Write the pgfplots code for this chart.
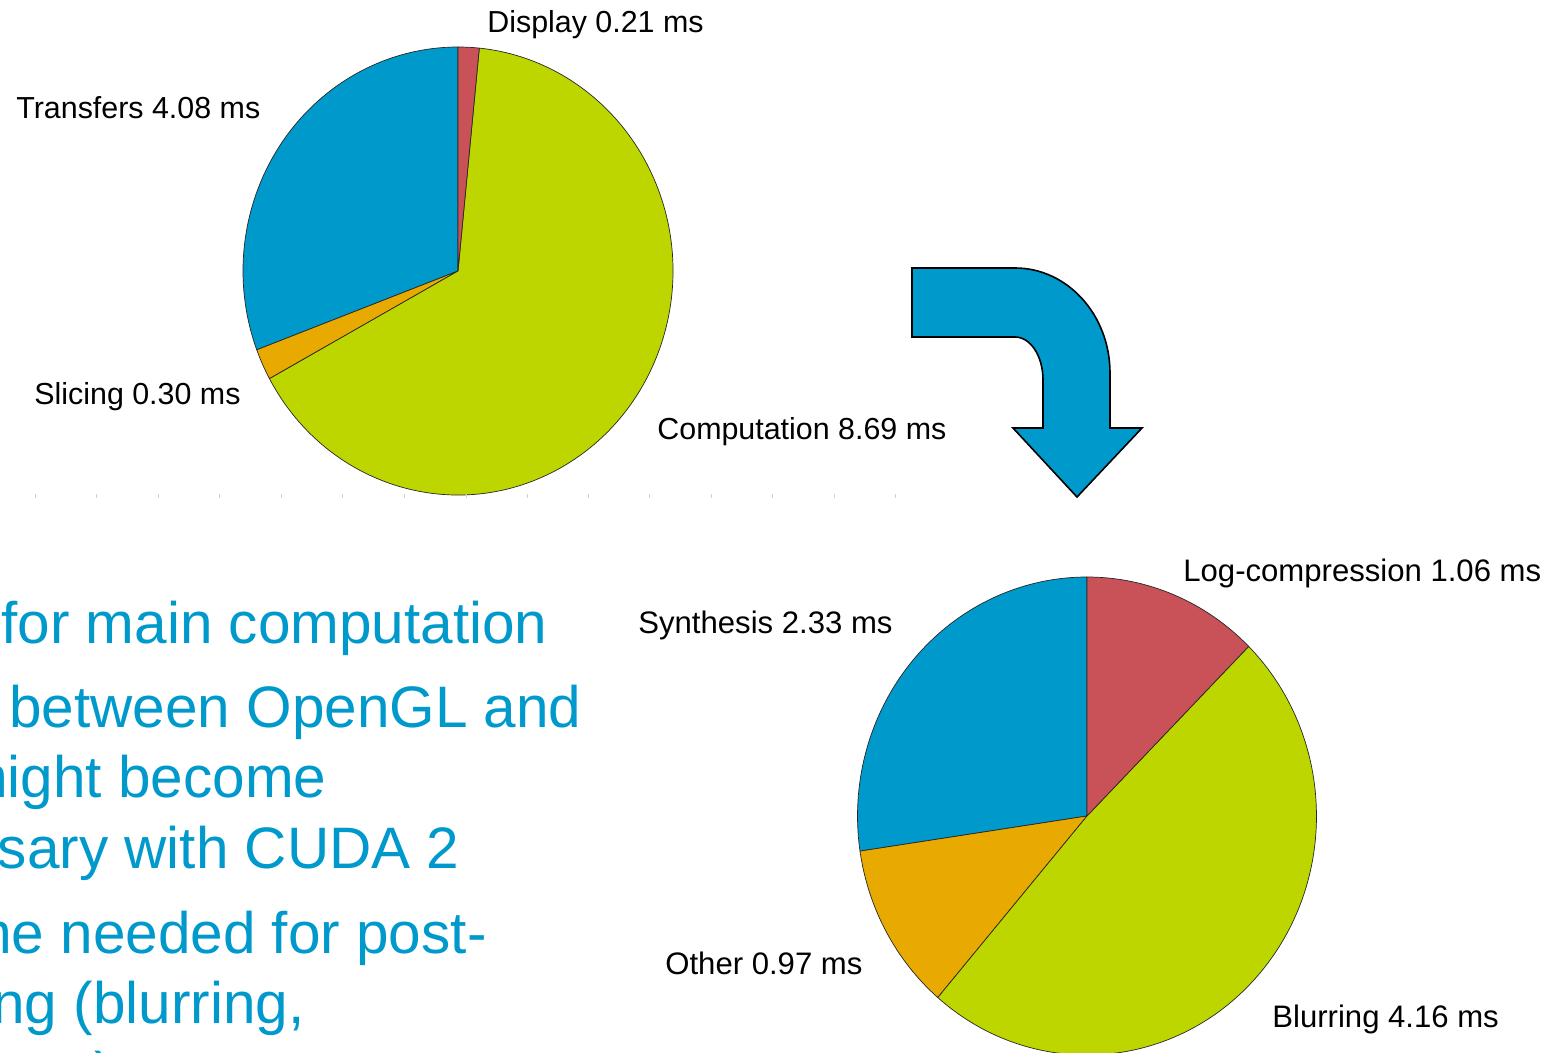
\documentclass[border=0pt]{standalone}
\usepackage{pgfplots}
\pgfplotsset{compat=1.18}
\usepackage{pgfplotstable}
\usepackage{fontspec}
\setmainfont{Liberation Sans}
\definecolor{pblue}{RGB}{0,153,204}
\definecolor{pgreen}{RGB}{190,214,0}
\definecolor{pred}{RGB}{200,82,88}
\definecolor{porange}{RGB}{232,170,0}

% pie 1 (counter-clockwise from the top)
\pgfplotstableread{
label value
Transfers 4.08
Slicing 0.30
Computation 8.69
Display 0.21
}\pieA
% pie 2 (counter-clockwise from the top)
\pgfplotstableread{
label value
Synthesis 2.33
Other 0.97
Blurring 4.16
Logcompression 1.06
}\pieB

\newcommand\getval[3]{\pgfplotstablegetelem{#2}{value}\of#1\xdef#3{\pgfplotsretval}}
\getval\pieA{0}\vAa
\getval\pieA{1}\vAb
\getval\pieA{2}\vAc
\getval\pieA{3}\vAd
\getval\pieB{0}\vBa
\getval\pieB{1}\vBb
\getval\pieB{2}\vBc
\getval\pieB{3}\vBd
\pgfmathsetmacro\totA{\vAa+\vAb+\vAc+\vAd}
\pgfmathsetmacro\angAa{90+360*\vAa/\totA}
\pgfmathsetmacro\angAb{\angAa+360*\vAb/\totA}
\pgfmathsetmacro\angAc{\angAb+360*\vAc/\totA}
\pgfmathsetmacro\totB{\vBa+\vBb+\vBc+\vBd}
\pgfmathsetmacro\angBa{90+360*\vBa/\totB}
\pgfmathsetmacro\angBb{\angBa+360*\vBb/\totB}
\pgfmathsetmacro\angBc{\angBb+360*\vBc/\totB}

% cx cy rx ry start end colour
\newcommand\pieslice[7]{%
  \filldraw[fill=#7, draw=black!85, line width=0.35pt, line join=round]
    (axis cs:#1,#2) -- ++(#5:#3pt and #4pt)
    arc[start angle=#5, end angle=#6, x radius=#3pt, y radius=#4pt] -- cycle;}

\newcommand\lab{\fontsize{15.2}{18}\selectfont}
\newcommand\labB{\fontsize{15.55}{18}\selectfont}
\newcommand\bigtxt{\fontsize{29.25}{35}\selectfont\color{pblue}}

\begin{document}
\begin{tikzpicture}
\begin{axis}[
  x=0.5pt, y=0.5pt,
  xmin=0, xmax=1559, ymin=0, ymax=1053,
  y dir=reverse,
  hide axis, clip=false,
]
% faint tick marks under the first pie
\addplot[only marks, mark=|, mark size=1.2pt, black!18, mark options={line width=0.3pt}] coordinates {
(35,496) (96,496) (158,496) (219,496) (281,496) (342,496) (404,496) (466,496)
(527,496) (588,496) (649,496) (711,496) (772,496) (834,496) (895,496)};

% pie 1
\pieslice{458}{271}{107.5}{112}{90}{\angAa}{pblue}
\pieslice{458}{271}{107.5}{112}{\angAa}{\angAb}{porange}
\pieslice{458}{271}{107.5}{112}{\angAb}{\angAc}{pgreen}
\pieslice{458}{271}{107.5}{112}{\angAc}{450}{pred}

% pie 2
\pieslice{1087}{816}{114.75}{119.5}{90}{\angBa}{pblue}
\pieslice{1087}{816}{114.75}{119.5}{\angBa}{\angBb}{porange}
\pieslice{1087}{816}{114.75}{119.5}{\angBb}{\angBc}{pgreen}
\pieslice{1087}{816}{114.75}{119.5}{\angBc}{450}{pred}

% arrow
\filldraw[fill=pblue, draw=black, line width=0.8pt, line join=miter]
  (axis cs:912,268) -- (axis cs:1015,268)
  .. controls (axis cs:1067.5,268) and (axis cs:1110,315) .. (axis cs:1110,373)
  -- (axis cs:1110,428) -- (axis cs:1142,428) -- (axis cs:1077,497)
  -- (axis cs:1013,428) -- (axis cs:1043,428) -- (axis cs:1043,380)
  .. controls (axis cs:1043,356) and (axis cs:1030.5,337) .. (axis cs:1015,337)
  -- (axis cs:912,337) -- cycle;

% slice labels
\node[anchor=base west, inner sep=0pt] at (axis cs:487,33) {\lab Display 0.21 ms};
\node[anchor=base west, inner sep=0pt] at (axis cs:16,119) {\lab Transfers 4.08 ms};
\node[anchor=base west, inner sep=0pt] at (axis cs:34,405) {\lab Slicing 0.30 ms};
\node[anchor=base west, inner sep=0pt] at (axis cs:657,439) {\lab Computation 8.69 ms};
\node[anchor=base west, inner sep=0pt] at (axis cs:1183,581) {\labB Log-compression 1.06 ms};
\node[anchor=base west, inner sep=0pt] at (axis cs:638,633) {\labB Synthesis 2.33 ms};
\node[anchor=base west, inner sep=0pt] at (axis cs:665,974) {\labB Other 0.97 ms};
\node[anchor=base west, inner sep=0pt] at (axis cs:1272,1027) {\labB Blurring 4.16 ms};

% slide text, cut at the left edge
\node[anchor=base east, inner sep=0pt] at (axis cs:548,643) {\bigtxt for main computation};
\node[anchor=base east, inner sep=0pt] at (axis cs:582,727) {\bigtxt between OpenGL and};
\node[anchor=base east, inner sep=0pt] at (axis cs:327,797) {\bigtxt might become};
\node[anchor=base east, inner sep=0pt] at (axis cs:460,868) {\bigtxt unnecessary with CUDA 2};
\node[anchor=base east, inner sep=0pt] at (axis cs:487,953) {\bigtxt time needed for post-};
\node[anchor=base east, inner sep=0pt] at (axis cs:305,1023) {\bigtxt processing (blurring,};
\node[anchor=base west, inner sep=0pt] at (axis cs:0,1093) {\bigtxt etc.)};
\end{axis}
\pgfresetboundingbox
\useasboundingbox (current axis.south west) rectangle (current axis.north east);
\end{tikzpicture}
\end{document}
